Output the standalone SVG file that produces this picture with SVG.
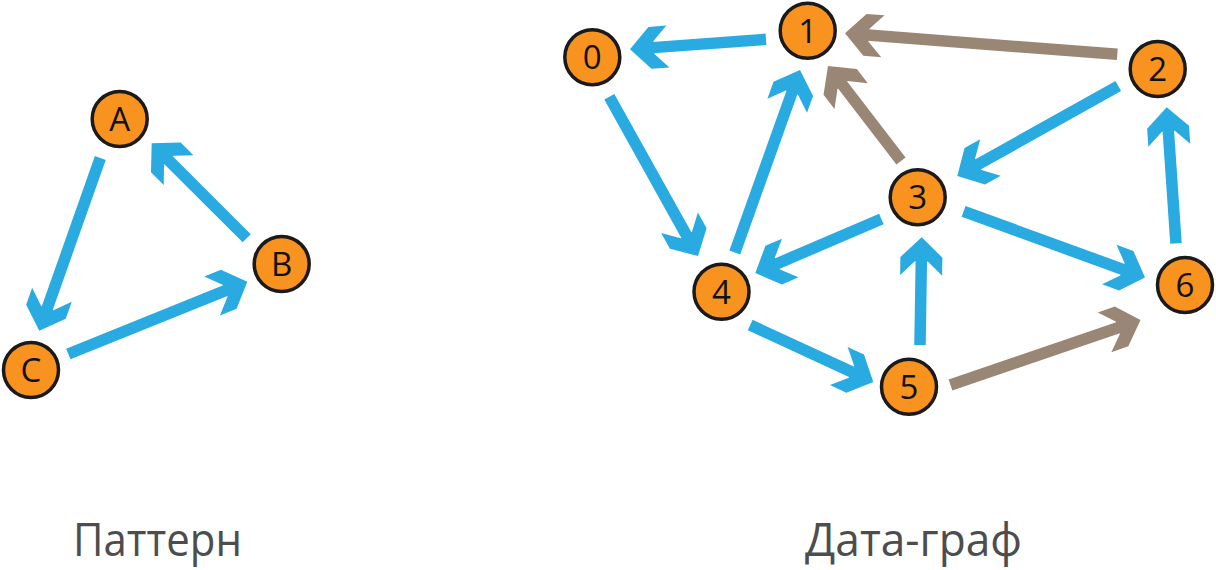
<svg xmlns="http://www.w3.org/2000/svg" width="1216" height="570" viewBox="0 0 1216 570">
<style>
.node circle{fill:#f7931e;stroke:#1a1a1a;stroke-width:3.5}
.node text{font-family:"Open Sans","Noto Sans",sans-serif;font-size:33px;fill:#111;text-anchor:middle}
.e{fill:none;stroke-width:11.5;stroke-linecap:butt}
.blue{stroke:#29abe2;marker-end:url(#hb)}
.brown{stroke:#998675;marker-end:url(#hr)}
.label{font-family:"Open Sans","Noto Sans",sans-serif;font-size:46px;fill:#4d4d4d}
</style>
<defs>
<marker id="hb" markerUnits="userSpaceOnUse" orient="auto" refX="0" refY="0" markerWidth="60" markerHeight="60" overflow="visible">
<path d="M23,0 L3,-21 L-15,-21 L-1,-6.5 L-1,6.5 L-15,21 L3,21 Z" fill="#29abe2"/>
</marker>
<marker id="hr" markerUnits="userSpaceOnUse" orient="auto" refX="0" refY="0" markerWidth="60" markerHeight="60" overflow="visible">
<path d="M23,0 L3,-21 L-15,-21 L-1,-6.5 L-1,6.5 L-15,21 L3,21 Z" fill="#998675"/>
</marker>
</defs>
<g id="connectors">
<path class="e blue" d="M100.3,158 L46.96,309"/>
<path class="e blue" d="M246.7,238.3 L167.96,159.56"/>
<path class="e blue" d="M68.3,354 L225.97,290.31"/>
<path class="e blue" d="M766,39.3 L652.93,47.61"/>
<path class="e blue" d="M609.3,96.7 L686.81,235.9"/>
<path class="e blue" d="M734.8,252.5 L792.26,91.66"/>
<path class="e brown" d="M901,161 L842.01,84.24"/>
<path class="e brown" d="M1117.3,54.3 L867.93,35.07"/>
<path class="e blue" d="M1118.3,86 L977.38,164.78"/>
<path class="e blue" d="M881.4,219 L776.44,263.95"/>
<path class="e blue" d="M963.6,211.4 L1123.39,269.63"/>
<path class="e blue" d="M920,345 L921.34,260.3"/>
<path class="e blue" d="M750.2,325 L852.43,372.34"/>
<path class="e brown" d="M950.5,385 L1118.74,327.45"/>
<path class="e blue" d="M1176,243.3 L1168.27,130.25"/>
</g>
<g id="node-A" class="node"><circle cx="119.7" cy="119" r="27.5"/><text x="119.7" y="131">A</text></g>
<g id="node-B" class="node"><circle cx="281.7" cy="264" r="27.5"/><text x="281.7" y="276">B</text></g>
<g id="node-C" class="node"><circle cx="31" cy="370" r="27.5"/><text x="31" y="382">C</text></g>
<g id="node-0" class="node"><circle cx="592.3" cy="57.3" r="27.5"/><text x="592.3" y="69.3">0</text></g>
<g id="node-1" class="node"><circle cx="807.7" cy="30.7" r="27.5"/><text x="807.7" y="42.7">1</text></g>
<g id="node-2" class="node"><circle cx="1157.7" cy="69" r="27.5"/><text x="1157.7" y="81">2</text></g>
<g id="node-3" class="node"><circle cx="917.7" cy="197.3" r="27.5"/><text x="917.7" y="209.3">3</text></g>
<g id="node-4" class="node"><circle cx="721.5" cy="291.7" r="27.5"/><text x="721.5" y="303.7">4</text></g>
<g id="node-5" class="node"><circle cx="909" cy="386.7" r="27.5"/><text x="909" y="398.7">5</text></g>
<g id="node-6" class="node"><circle cx="1185" cy="285" r="27.5"/><text x="1185" y="297">6</text></g>
<text class="label" x="73" y="556" textLength="169" lengthAdjust="spacingAndGlyphs">Паттерн</text>
<text class="label" x="805" y="556" textLength="217" lengthAdjust="spacingAndGlyphs">Дата-граф</text>
</svg>
